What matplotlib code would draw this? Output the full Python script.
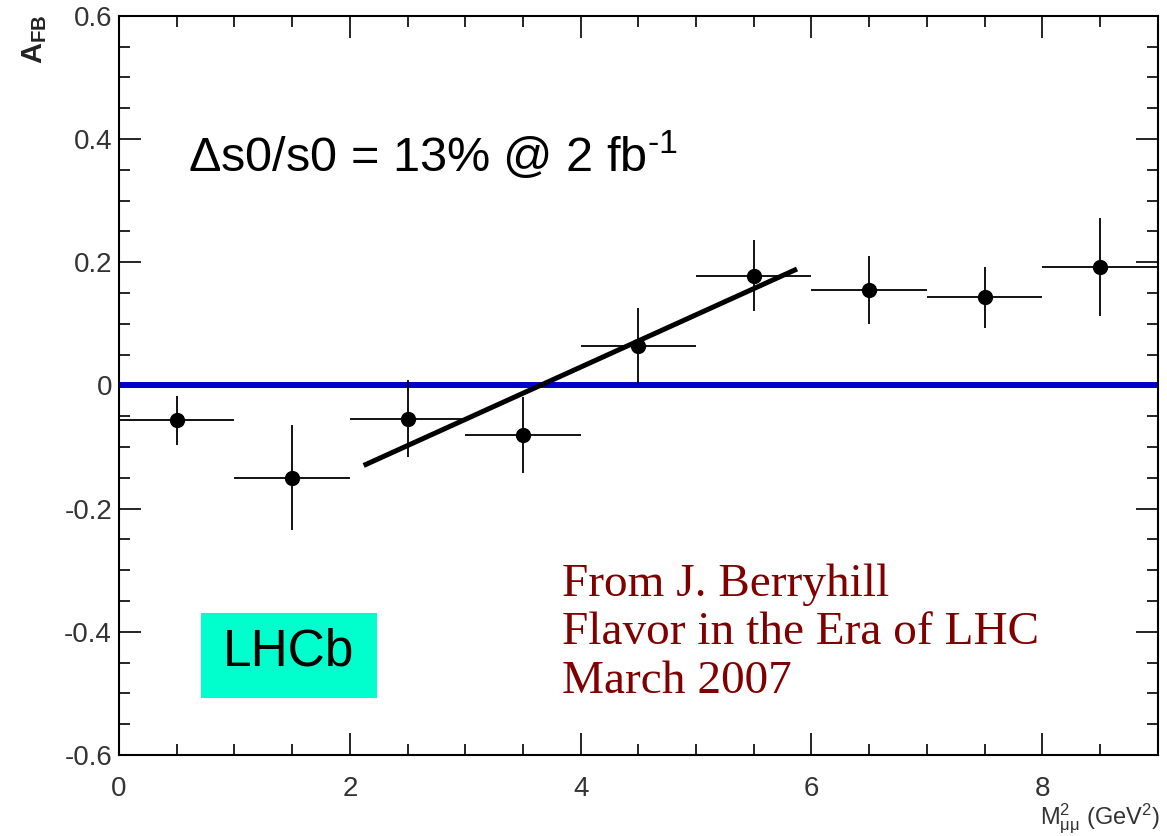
import matplotlib
matplotlib.use("Agg")
import matplotlib.pyplot as plt
from matplotlib.ticker import MultipleLocator
from matplotlib.patches import Rectangle

plt.rcParams['font.family'] = ['Liberation Sans', 'DejaVu Sans']
plt.rcParams['mathtext.fontset'] = 'custom'
plt.rcParams['mathtext.rm'] = 'Liberation Sans'
plt.rcParams['mathtext.it'] = 'Liberation Sans:italic'
plt.rcParams['mathtext.bf'] = 'Liberation Sans:bold'

# forward-backward asymmetry per 1 GeV^2 bin
bin_centres = [0.5, 1.5, 2.5, 3.5, 4.5, 5.5, 6.5, 7.5, 8.5]
bin_halfwidth = [0.5, 0.5, 0.5, 0.5, 0.5, 0.5, 0.5, 0.5, 0.5]
afb = [-0.057, -0.150, -0.054, -0.081, 0.064, 0.178, 0.155, 0.143, 0.192]
afb_err = [0.039, 0.085, 0.062, 0.062, 0.062, 0.058, 0.055, 0.050, 0.080]

# linear fit around the zero crossing
fit_x = [2.12, 5.875]
fit_y = [-0.130, 0.189]

yticks = [-0.6, -0.4, -0.2, 0, 0.2, 0.4, 0.6]
ytick_labels = ['-0.6', '-0.4', '-0.2', '0', '0.2', '0.4', '0.6']
xticks = [0, 2, 4, 6, 8]
xtick_labels = ['0', '2', '4', '6', '8']

fig = plt.figure(figsize=(11.67, 8.36), dpi=100)
ax = fig.add_axes([0.102, 0.097, 0.890, 0.884])

ax.axhline(0.0, color='#0000cc', lw=4.3, zorder=2)
ax.errorbar(bin_centres, afb, xerr=bin_halfwidth, yerr=afb_err,
            fmt='o', color='black', ms=10, elinewidth=1.3, capsize=0, zorder=4)
ax.plot(fit_x, fit_y, color='black', lw=3.6, solid_capstyle='butt', zorder=3)

ax.set_xlim(0, 9)
ax.set_ylim(-0.6, 0.6)
ax.set_xticks(xticks)
ax.set_xticklabels(xtick_labels)
ax.set_yticks(yticks)
ax.set_yticklabels(ytick_labels)
ax.xaxis.set_minor_locator(MultipleLocator(0.5))
ax.yaxis.set_minor_locator(MultipleLocator(0.05))

ax.tick_params(which='both', direction='in', top=True, right=True,
               width=1.2, colors='black', labelcolor='#333333', labelsize=20)
ax.tick_params(which='major', length=16)
ax.tick_params(which='minor', length=8)
ax.tick_params(axis='x', pad=15)
ax.tick_params(axis='y', pad=5)
for sp in ax.spines.values():
    sp.set_linewidth(1.5)

fig.text(0.030, 0.983, r'$\mathbf{A_{FB}}$', rotation=90, ha='center', va='top',
         fontsize=21, color='#222222')
fig.text(0.994, 0.0, r'$\mathregular{M^{2}_{\mu\mu}}$ (GeV$^{\mathregular{2}}$)',
         ha='right', va='bottom', fontsize=17, color='#333333')

ax.text(0.6, 0.372, '\u0394s0/s0 = 13% @ 2 fb$^{\\mathregular{\u20101}}$',
        fontsize=35, color='black', va='center', ha='left')

ax.text(3.84, -0.289, 'From J. Berryhill\nFlavor in the Era of LHC\nMarch 2007',
        family='Liberation Serif', fontsize=34, color='#800000',
        va='top', ha='left', linespacing=1.18)

ax.add_patch(Rectangle((0.71, -0.507), 1.525, 0.137, facecolor='#00ffcc',
                       edgecolor='none', zorder=5))
ax.text(1.465, -0.433, 'LHCb', fontsize=37, color='black',
        ha='center', va='center', zorder=6)

fig.savefig('out.png', dpi=100)
